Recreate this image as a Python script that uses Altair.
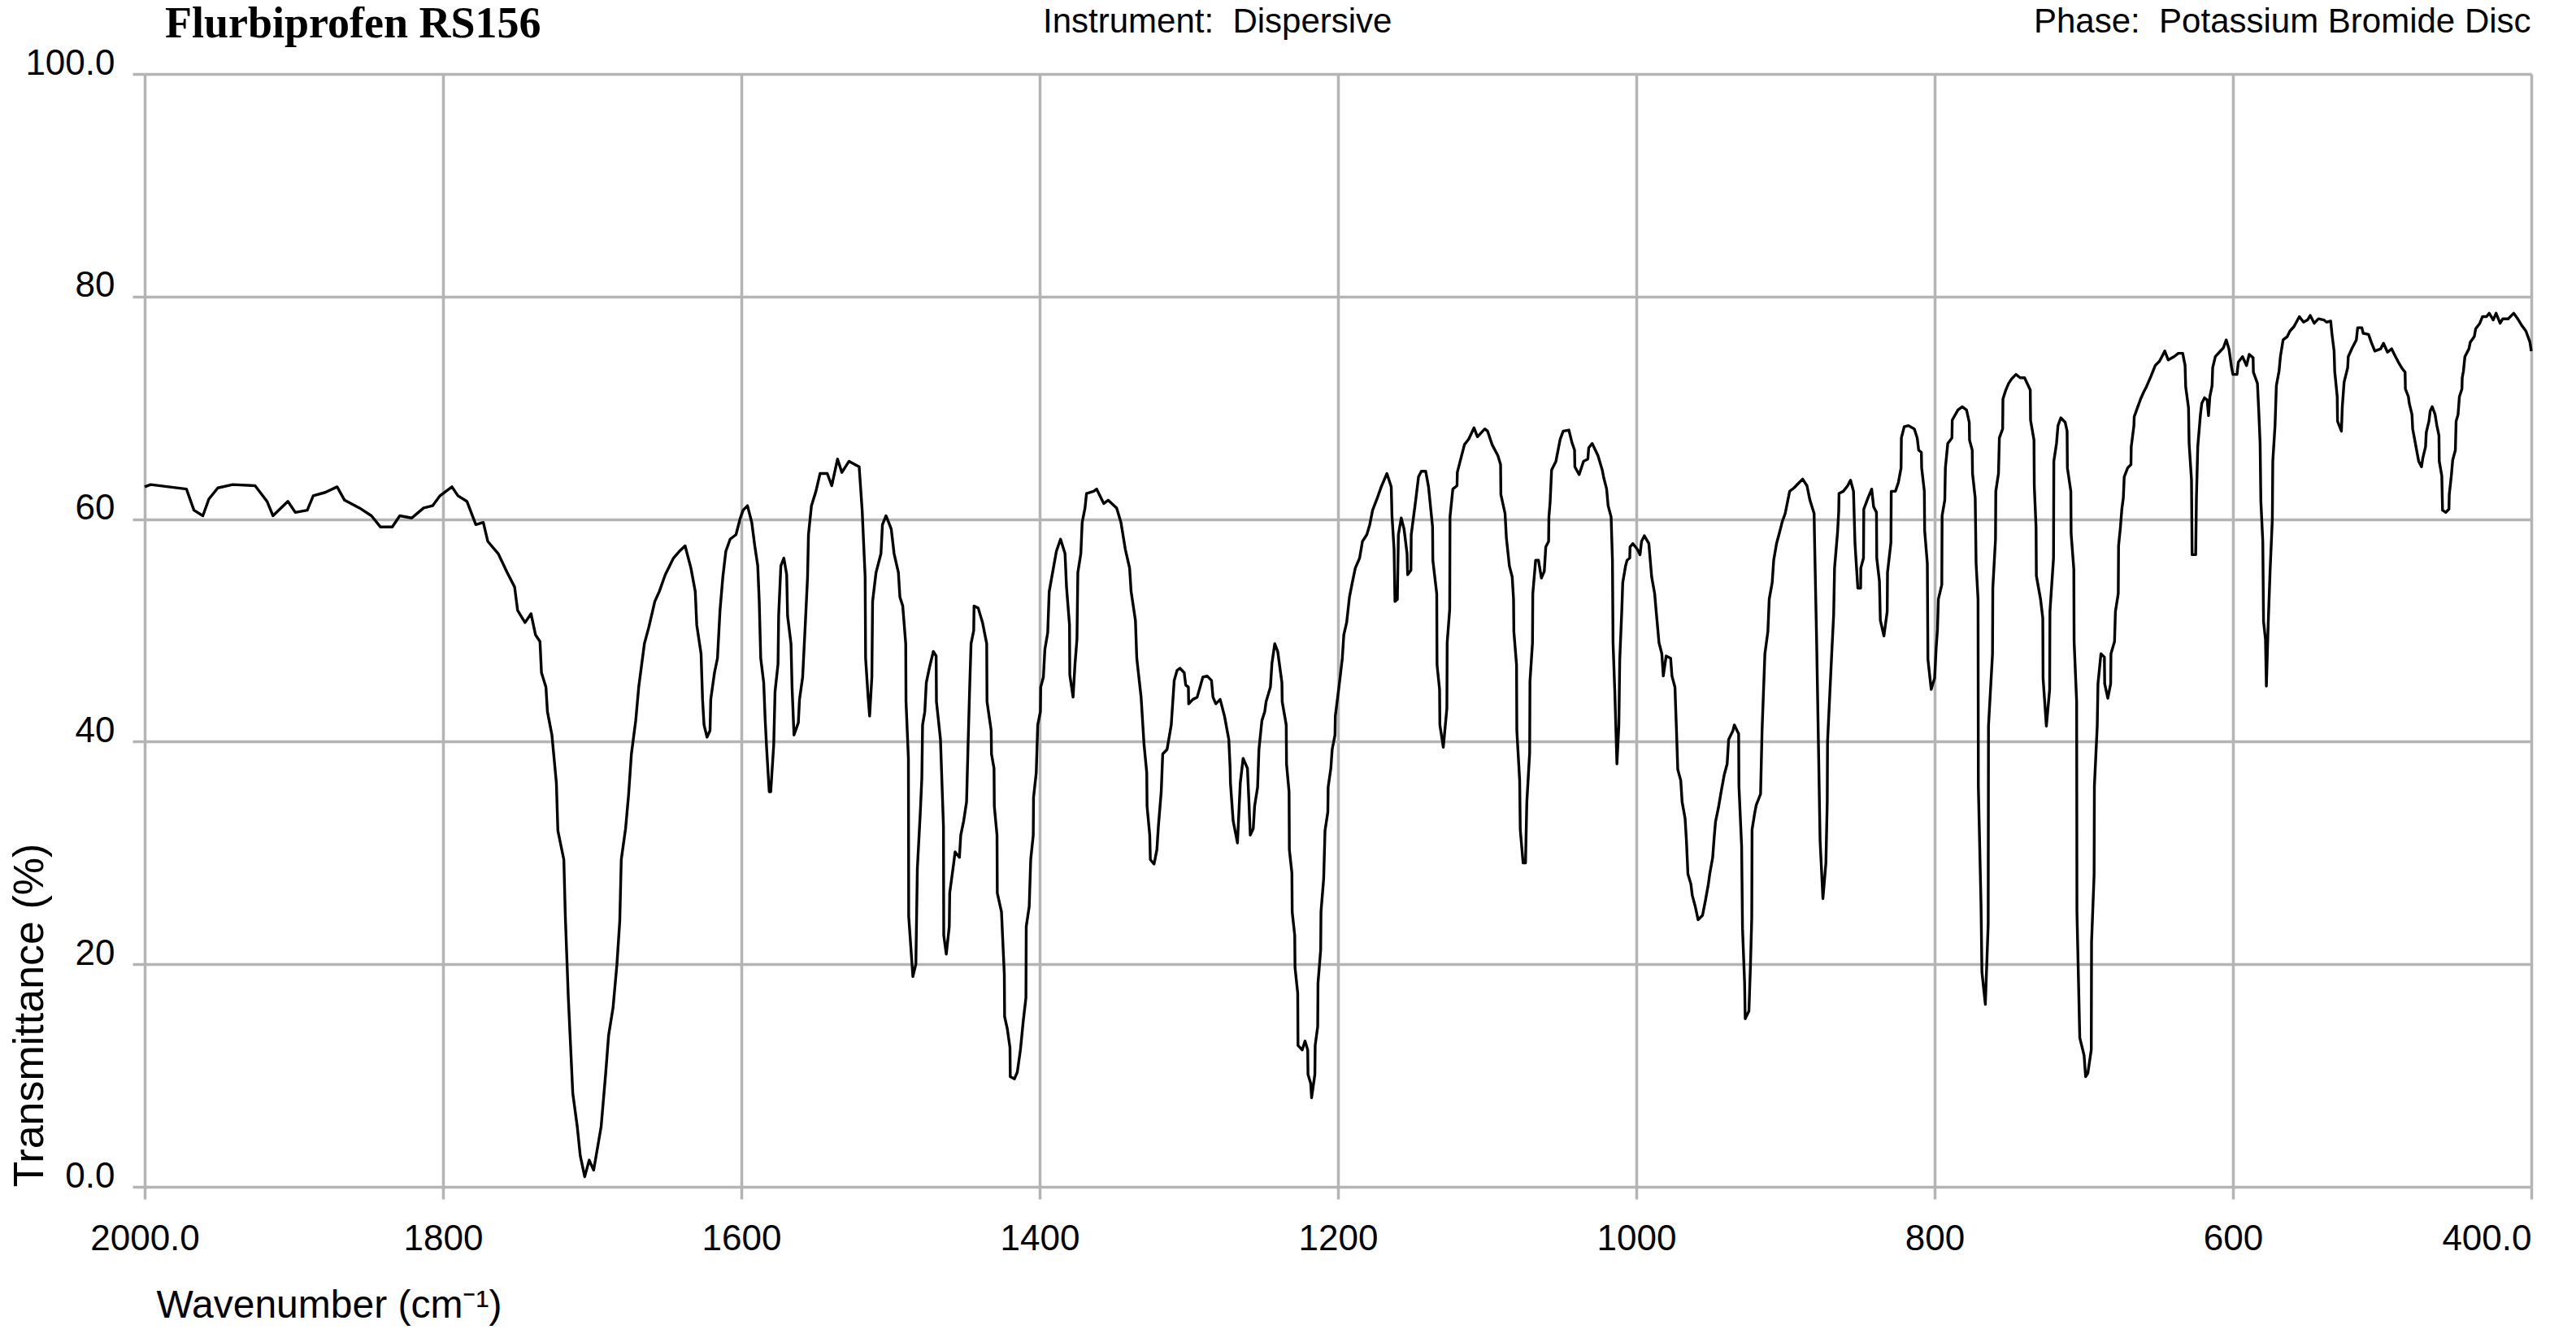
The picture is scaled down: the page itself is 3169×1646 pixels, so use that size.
import json
import altair as alt
import pandas as pd

# ---------------- data ----------------
WAVENUMBER = [
    2000, 1996, 1984, 1972, 1967, 1961, 1957, 1951, 1941, 1926, 1918, 1914, 1904, 1899, 1891, 1887,
    1879, 1871, 1866, 1856, 1848, 1842, 1834, 1829, 1821, 1813, 1807, 1802, 1794, 1790, 1784, 1778,
    1773, 1770, 1763, 1757, 1752, 1750, 1745, 1741, 1738, 1735, 1734, 1731, 1730, 1727, 1724, 1723,
    1719, 1718, 1716, 1713, 1710, 1708, 1705,
    1702, 1699, 1694, 1691, 1689, 1686, 1683.4, 1681.5, 1680.5, 1677.6, 1675.6, 1673.7, 1670.8, 1668.8,
    1665, 1662, 1658, 1655, 1651, 1645.5, 1641.6, 1637.7, 1633.8, 1630.9, 1629.9, 1627, 1626, 1625,
    1623, 1621, 1620.5, 1618, 1616, 1614.3, 1612.4, 1610.4, 1607.5, 1603.6, 1600.7, 1598.8, 1595.9,
    1593, 1591, 1589, 1588, 1587, 1585, 1584, 1583, 1581.3, 1580.3, 1578.3, 1577.4, 1575.4, 1575,
    1573.5, 1571.5, 1569.6, 1569, 1566.7, 1566, 1564.7, 1561.8, 1561, 1558.9, 1557, 1555.6, 1555,
    1553, 1550, 1547.2, 1542.4, 1539.4, 1535.5, 1532.6, 1527.8, 1521, 1519, 1517, 1516.7, 1515, 1514,
    1512.5, 1512, 1509.7, 1506.4, 1505.4, 1503, 1499.5, 1497.6, 1494.7, 1493.7, 1491.8, 1489.8,
    1489.6, 1488, 1487.8, 1485, 1483, 1482, 1480, 1479, 1478.5, 1477, 1476, 1474, 1471.3, 1469.4,
    1469.2, 1466.5, 1464.5, 1464.3, 1462.6, 1460.6, 1460.3, 1457.7, 1456.7, 1453.8, 1452.9, 1450.9,
    1449, 1448, 1447, 1446, 1444.2, 1444, 1441.2, 1438.3, 1435.5, 1435.3, 1432.5, 1432.3, 1430.6,
    1430.4, 1428.6, 1428.4, 1425.6, 1423.7, 1423.5, 1421.7, 1419.9, 1419.7, 1416.9, 1415,
    1412.9, 1411, 1409.2, 1409, 1407, 1406, 1404.3, 1404.1, 1402.3, 1401.3, 1399.5, 1399.3, 1397.5,
    1396.5, 1394.6, 1393.6, 1390.8, 1388.8, 1386, 1383, 1382, 1380, 1379.8, 1377.6, 1376.3, 1375,
    1374.4, 1372.4, 1371.5, 1369.6, 1368.6, 1363.8, 1361.8, 1357, 1354.1, 1348.4, 1345.5, 1342.6,
    1339.7, 1338.7, 1335.8, 1334.9, 1332, 1330, 1328.2, 1328, 1326.2, 1325.8, 1323.3, 1321.4, 1320.4,
    1318.5, 1317.5, 1314.6, 1311.8, 1309.8, 1307.9, 1306, 1303.1, 1302.1, 1300.3, 1300.1, 1297.3,
    1294.4, 1290.6, 1287.7, 1284.8, 1283.8, 1281.9, 1279, 1276.1, 1273.2, 1272.3, 1272.1, 1270.3,
    1267.4, 1265.5, 1263.6, 1260.7, 1259.7, 1258.8, 1256.8, 1255.9, 1253.9, 1253, 1251, 1249.1,
    1248.2, 1245.3, 1244.3, 1242.4, 1240.4, 1237.6, 1237.4, 1234.7, 1234.5, 1232.8, 1232.6, 1230.9,
    1230.7, 1229, 1228.8, 1227, 1226.8, 1224, 1222.1, 1220.3, 1220.1, 1218.3, 1217.7, 1215.5, 1215.3,
    1213.6, 1213.4, 1211.6, 1211.4, 1209.6, 1208.7, 1206.8, 1206.6, 1204.8, 1203.9, 1202, 1201.8,
    1199, 1197.1, 1196.1, 1194.2, 1192.3, 1190.4, 1188.4, 1185.5, 1183.6, 1180.7, 1178.7, 1176.8,
    1173.9, 1171, 1167.2, 1164.3, 1163.8, 1162.4, 1161.8, 1160.2, 1159.5, 1157.6, 1155.7, 1153.7,
    1153.3, 1151.1, 1150.9, 1148, 1146, 1144.1, 1141.2, 1139.3,
    1136.6, 1136.4, 1133.8, 1133.6, 1131.9, 1131.7, 1129.4, 1127, 1126.8, 1125.1, 1124.9, 1123,
    1120.2, 1120, 1118.1, 1115.2, 1112.3, 1108.8, 1106.5, 1101.6, 1099.7, 1096.7, 1092.8, 1091,
    1090.8, 1088, 1087.1, 1085.1, 1083.2, 1082.3, 1082.1, 1080.3, 1080.1, 1078.2, 1077.8, 1075.9,
    1074.3, 1073.4, 1071.5, 1071.3, 1069.6, 1069.4, 1067.5, 1065.6, 1063.6, 1061.7, 1060.7, 1058.8,
    1058.6, 1057.8, 1056.8, 1053.9, 1051, 1049, 1045.2, 1043.2, 1041.4, 1041.2, 1038.3, 1035.4,
    1032.5, 1031.9, 1029.6, 1025.7, 1022.8, 1021.8, 1019.9, 1018.9, 1016.9, 1016, 1015.6, 1014.4,
    1013, 1011.7, 1011.1, 1009.7, 1009.1, 1007.2, 1006.2, 1004.4, 1004.2, 1002.3, 999.4, 997.5, 996.5,
    994.6, 991.6, 989.7, 987.7, 986.8, 984.8, 982.9, 981.9, 980, 977, 976.1, 974.1, 973.2, 972.2,
    970.2, 969.3, 967.3, 966.4, 965.4, 963.4, 962.5, 960.5, 958.6, 955.6, 953.7, 951.7, 950.8, 948.8,
    947.8, 946.9, 944.9, 943, 941.1, 939.1, 938.1, 935.2, 934.3, 931.4, 931.2, 929.4, 928.8, 927.4,
    927, 924.5, 923.5, 922.6, 922.4, 920.6, 919.6, 916.7, 915.7, 913.8, 911.8, 910.9, 908.9, 907.9,
    906, 904, 902.1, 900.2, 897.2, 894.3, 891.4, 888.5, 885.6, 883.6, 880.8, 880.6, 879.1, 877.8,
    876.8, 874.9, 872.9, 872, 871.8, 869, 867.7, 867.1, 865.1, 864.3, 864.1, 861.2, 858.3, 856.4,
    854.4, 853.4, 851.5, 849.6, 849.5,
    847.7, 847.5, 844.7, 842.2, 840.9, 839, 838.8, 837, 836.4, 834, 831.8, 831.6, 829.3, 829.1, 826.3,
    824.3, 822.5, 822.3, 820.4, 817.5, 813.6, 811.7, 810.7, 808.9, 808.7, 806.9, 806.7, 804.9, 804.5,
    802.3, 800, 799, 798.1, 797.5, 795.2, 795, 793.2, 792.8, 791.2, 788.4, 788.2, 784.4, 781.5, 778.6,
    776.8, 776.6, 774.8, 774.6, 772.8, 772.2, 770.9, 770.7, 768.9, 768.3, 766, 764.1, 763.9, 761.2,
    761, 759.2, 759, 757.2, 756.6, 754.4, 754.2, 752.3, 750.4, 748.4, 745.5, 742.6, 739.7, 735.9,
    735.7, 733.4, 733.2, 732, 731.8, 729, 727.5, 727.3, 725.1, 722.9, 722.7, 720.3, 720.1, 718.3,
    717.3, 715.4, 712.5, 711.2, 711, 708.7, 708.5, 706.7, 706.5, 704.8, 704.6, 702.7, 699.8, 698.8,
    697.3, 695, 694.8, 693.1, 692.9, 691, 690.5, 688.5, 686.2, 686, 683.9, 682, 681.8, 679.4, 678.8,
    676.9, 676.7, 675.5, 674.5, 673.5, 672.9, 670.6, 668.4, 668.2, 666.4, 666.2, 663.8, 661.9, 659.9,
    658, 655.1, 652.1, 649.2, 645.7, 643.4, 639.5, 636.6, 633.7, 632.1, 631.7, 629.8, 629.4, 627.8,
    627.4, 625.0,
    624.5, 623.6, 621.8, 620.9, 619.1, 617.3, 616.4, 615.5, 614, 613.6, 611.8, 609.1, 606.4, 604.5,
    602.7, 600.9, 600, 597.3, 596.4, 593.6, 590.9, 589.1, 586.5, 586.3, 583.6, 582.7, 581.8, 581.3,
    580, 579.5, 578.2, 577.6, 576.4, 575.1, 573.6, 573.3, 571.8, 570.9, 569.1, 568.2, 566.4, 563.6,
    561.8, 559.1, 555.5, 552.7, 550, 548.2, 545.5, 542.7, 539.1, 537.3, 534.5, 533.6, 532.2, 531.8,
    530.1, 529.9, 527.3, 526.7, 525.5, 523.1, 522.7, 520, 517.3, 516.4, 513.6, 512.7, 509.1, 507.3,
    504.9, 501, 499.1, 496.4, 493.6, 491.8, 489.1, 486.4, 484.6, 484.4, 482.4, 481.8, 480, 479.5,
    477.3, 475.5, 473.6, 472.7, 470.9, 470.4, 468.6, 467.8, 466.4, 464.5, 463.3, 461.9, 461.7, 460,
    459.5, 457.3, 455.2, 455, 453.6, 452.7, 450.9, 450.4, 449.1, 448.2, 446.5, 446.3, 445.5, 444.5,
    441.8, 440.9, 438.2, 437.3, 434.5, 432.7, 430, 428.2, 425.5, 423.6, 420.9, 419.1, 415.5, 411.8,
    409.1, 406.4, 403.6, 400.9, 400,
]

TRANSMITTANCE = [
    62.9, 63.1, 62.9, 62.7, 60.8, 60.3, 61.8, 62.8, 63.1, 63.0, 61.6, 60.3, 61.6, 60.6, 60.8, 62.1,
    62.4, 62.9, 61.7, 61.0, 60.3, 59.3, 59.3, 60.3, 60.1, 61.0, 61.2, 62.1, 62.9, 62.1, 61.6, 59.5,
    59.7, 58.0, 56.9, 55.2, 53.9, 51.8, 50.7, 51.5, 49.6, 49.0, 46.2, 44.9, 42.7, 40.6, 36.3, 32.0,
    29.4, 24.3, 17.0, 8.4, 5.4, 2.8, 0.9,
    2.4, 1.5, 5.4, 10.1, 13.6, 16.1, 20.0, 23.9, 29.4, 32.2, 35.2, 38.9, 41.9, 44.9,
    48.8, 50.3, 52.6, 53.5, 55.0, 56.5, 57.1, 57.6, 55.6, 53.5, 50.5, 47.9, 43.8, 41.5,
    40.4, 41.0, 43.8, 46.2, 47.5, 51.8, 54.8, 57.1, 58.2, 58.6, 60.1, 60.8, 61.2,
    59.7, 57.6, 55.8, 52.6, 47.5, 45.3, 41.9, 39.3, 35.5, 35.5, 39.7, 44.5, 47.0, 51.3,
    55.8, 56.5, 55.0, 51.3, 48.8, 44.9, 40.6, 41.7, 43.8, 45.8, 50.9, 54.8, 58.6,
    61.2, 62.5, 64.1, 64.1, 63.0, 65.4, 64.2, 65.2, 64.7, 60.8, 54.8, 47.5, 44.0, 42.3,
    45.8, 52.6, 55.2, 56.9, 59.5, 60.3, 59.1, 56.9, 55.2, 53.0, 52.2, 48.8,
    43.6, 38.5, 24.3, 18.9, 20.0, 28.6, 33.7, 36.7, 41.5, 42.7, 45.3, 46.6, 48.1, 47.7,
    43.6, 40.2, 32.4, 22.6, 20.9, 23.4, 26.4, 29.0, 30.1, 29.6, 31.6, 32.9,
    34.6, 39.7, 44.5, 48.8, 50.0, 52.2, 52.0, 50.7, 48.8, 43.6, 41.0, 38.9, 37.6,
    34.2, 31.6, 26.4, 24.7, 19.1, 15.3, 14.2, 12.5, 9.9, 9.7, 10.3,
    12.3, 14.9, 17.0, 23.4, 25.2, 29.4, 31.6, 35.0, 37.2, 41.5, 42.7, 44.9, 45.8,
    48.3, 49.8, 53.5, 55.6, 57.1, 58.2, 56.9, 53.9, 50.5, 46.0, 44.0, 47.0, 49.2,
    55.2, 56.9, 59.7, 61.0, 62.3, 62.5, 62.7, 61.4, 61.7, 61.0, 59.7, 57.3,
    55.6, 53.5, 50.9, 47.5, 44.0, 39.7, 37.2, 34.2, 31.6, 29.4, 29.0, 30.3, 32.4,
    35.5, 38.9, 39.3, 41.5, 45.5, 46.4, 46.6, 46.2, 45.1, 44.9, 43.4, 43.8,
    44.0, 45.8, 45.9, 45.5, 44.0, 43.4, 43.8, 42.3, 40.2, 37.6, 36.3, 32.9,
    30.9, 36.3, 38.5, 37.6, 34.6, 31.6, 32.2, 34.2, 35.9, 39.3, 41.9, 42.7,
    43.6, 44.9, 47.0, 48.8, 48.1, 45.3, 43.6, 41.5, 38.0, 35.5, 30.3, 28.2,
    24.7, 22.6, 19.7, 17.4, 12.7, 12.3, 13.1, 12.3, 10.1, 9.3, 8.0, 10.1, 12.7,
    14.4, 18.3, 21.3, 24.7, 27.7, 32.0, 33.7, 35.9, 37.6, 39.3, 40.6, 42.3,
    45.3, 47.5, 49.6, 50.7, 53.0, 54.3, 55.6, 56.5, 58.0, 58.6, 59.5, 60.8,
    61.8, 62.9, 64.1, 62.9, 60.3, 57.3, 52.6, 52.8, 58.6, 60.1, 59.1, 56.9,
    55.0, 55.4, 58.6, 61.6, 63.8, 64.3, 64.3, 62.9,
    59.3, 56.3, 53.3, 46.9, 44.7, 41.5, 39.5, 43.0, 48.9, 51.9, 60.2, 62.7,
    63.0, 64.2, 65.2, 66.7, 67.2, 68.2, 67.4, 68.1, 67.9, 66.7, 65.7, 64.9,
    62.2, 60.5, 58.3, 55.8, 54.8, 52.8, 49.9, 46.9, 41.0, 36.5, 32.1, 29.1,
    29.1, 34.6, 39.0, 45.4, 48.9, 53.3, 56.3, 56.3, 54.7, 55.3, 57.5, 58.0,
    60.2, 61.5, 64.4, 65.2, 67.2, 67.9, 68.0, 66.9, 66.2, 64.7, 64.0, 65.2,
    65.4, 66.4, 66.8, 65.7, 64.4, 63.7, 62.7, 61.2, 60.2, 56.3, 48.9, 44.4,
    38.0, 41.5, 47.4, 51.9, 54.3, 55.8, 56.3, 56.5, 57.5, 57.8, 57.3, 56.8, 58.0,
    58.5, 57.8, 54.8, 53.3, 51.9, 48.9, 47.9, 45.9, 47.7, 47.5, 45.9, 44.9, 41.5, 37.5,
    36.5, 34.6, 33.1, 31.1, 28.1, 27.2, 26.2, 25.2, 24.0, 24.4, 25.7, 27.2, 28.1, 29.6,
    31.4, 32.8, 34.1, 35.6, 37.0, 38.0, 40.2, 41.0, 41.5, 40.7, 36.0, 30.6, 23.2, 18.3,
    15.1, 15.8, 19.8, 24.2, 32.1, 33.6, 34.3, 35.3, 41.0, 47.9, 49.9, 52.8, 54.3, 56.3,
    57.8, 58.8, 59.8, 60.5, 62.5, 62.8, 63.2, 63.6, 63.0, 61.7, 60.5, 58.8, 48.9, 39.0,
    31.1, 25.9, 29.1, 34.6, 40.0, 47.9, 51.4, 55.6, 58.8, 60.7, 62.3, 62.5, 63.0, 63.5,
    62.5, 57.8, 53.8, 53.8, 55.6,
    56.5, 60.9, 61.9, 62.7, 61.1, 60.6, 56.5, 54.4, 50.9, 49.5, 51.7, 55.2, 57.9, 62.5, 62.5,
    63.3, 64.6, 67.3, 68.3, 68.4, 68.1, 67.3, 66.2, 66.0, 64.6, 62.5, 59.0, 56.0, 47.4,
    44.7, 45.7, 48.4, 50.1, 52.8, 54.1, 60.3, 61.7, 64.6, 66.8, 67.3, 68.9, 69.8, 70.1, 69.8,
    68.7, 67.1, 66.2, 64.1, 61.9, 56.0, 52.8, 36.0, 25.3, 19.3, 16.4, 23.6, 41.4, 47.9,
    53.8, 58.2, 62.5, 64.1, 67.3, 68.1, 70.8, 71.6, 72.2, 72.6, 73.0, 72.7, 72.7, 71.6,
    68.9, 67.1, 63.0, 59.2, 54.9, 52.8, 51.1, 45.7, 41.4, 44.7, 51.7, 56.5, 65.2, 66.8,
    68.4, 69.1, 68.7, 67.9, 64.6, 62.5, 58.7, 55.5, 49.0, 43.6, 24.7, 13.4, 11.8, 9.9,
    10.2, 12.3, 22.0, 28.0, 36.0, 41.4, 45.2, 47.9, 47.6, 45.2, 43.9, 45.2, 47.9, 49.0, 51.7,
    53.3, 57.6, 59.2, 60.9, 61.9, 63.8, 64.6, 64.9, 66.5, 68.4, 69.2, 70.1, 70.8, 71.4,
    71.9, 72.8, 73.8, 74.2, 75.1, 74.3, 74.6, 74.9, 74.9, 73.8, 71.9, 70.0, 66.8, 63.5,
    56.8, 56.8,
    61.9, 66.5, 69.4, 70.4, 70.9, 70.7, 69.3, 71.0, 72.0, 73.6, 74.6, 75.0, 75.4, 76.1,
    75.3, 73.6, 73.0, 73.0, 74.1, 74.6, 73.8, 74.8, 74.5, 73.2, 72.2, 69.7, 66.8, 61.6,
    58.0, 50.8, 49.2, 45.0, 50.5, 55.4, 60.0, 65.2, 68.4, 72.0, 73.3, 74.6, 76.1, 76.4,
    76.9, 77.3, 78.2, 77.7, 77.9, 78.3, 77.6, 78.0, 77.9, 77.7, 77.8, 76.6, 75.1, 73.3,
    71.0, 68.8, 67.9, 70.1, 72.3, 73.6, 74.6, 75.4, 76.1, 77.2, 77.2, 76.7, 76.6, 75.9,
    75.1, 75.3, 75.8, 75.0, 75.3, 74.8, 74.1, 73.5, 73.2, 71.7, 71.0, 70.4, 69.4, 68.1,
    66.5, 65.2, 64.7, 65.5, 66.5, 67.8, 68.8, 69.7, 70.1, 69.4, 68.4, 67.5, 65.2, 63.9,
    60.8, 60.6, 60.9, 62.2, 63.9, 65.3, 66.2, 68.8, 69.4, 71.0, 71.7, 72.7, 73.3, 74.6,
    75.3, 75.9, 76.4, 77.1, 77.6, 78.2, 78.2, 78.5, 77.9, 78.5, 77.6, 78.0, 78.0, 78.5,
    78.0, 77.4, 76.9, 75.9, 75.1,
]

X_TICKS = [2000, 1800, 1600, 1400, 1200, 1000, 800, 600, 400]
X_TICK_LABELS = ["2000.0", "1800", "1600", "1400", "1200", "1000", "800", "600", "400.0"]
Y_TICKS = [0, 20, 40, 60, 80, 100]
Y_TICK_LABELS = ["0.0", "20", "40", "60", "80", "100.0"]

TITLE_LEFT = "Flurbiprofen RS156"
TITLE_MID = "Instrument:\u00a0 Dispersive"
TITLE_RIGHT = "Phase:\u00a0 Potassium Bromide Disc"
X_TITLE = "Wavenumber (cm\u207b\u00b9)"
Y_TITLE = "Transmittance (%)"

assert len(WAVENUMBER) == len(TRANSMITTANCE)

df = pd.DataFrame({
    "wavenumber": WAVENUMBER,
    "transmittance": TRANSMITTANCE,
    "i": list(range(len(WAVENUMBER))),
})


def label_expr(values, labels):
    return f"{json.dumps(labels)}[indexof({json.dumps(values)}, datum.value)]"


GRID = "#b4b4b4"
SANS = "Liberation Sans"
W, H = 2936, 1369

x_axis = alt.Axis(
    values=X_TICKS,
    labelExpr=label_expr(X_TICKS, X_TICK_LABELS),
    grid=True, gridColor=GRID, gridWidth=3.5, gridOpacity=1,
    ticks=True, tickColor=GRID, tickWidth=3.5, tickSize=15,
    domain=False,
    labelFont=SANS, labelFontSize=44, labelColor="black",
    labelPadding=27, labelFlush=False, labelOverlap=False, labelBaseline="top",
    labelAlign={"condition": {"test": "datum.value == 400", "value": "right"}, "value": "center"},
    title=X_TITLE, titleFont=SANS, titleFontSize=48, titleFontWeight="normal",
    titleColor="black", titleX=14, titleY=160, titleAlign="left",
    titleBaseline="alphabetic", titleAngle=0,
)

y_axis = alt.Axis(
    values=Y_TICKS,
    labelExpr=label_expr(Y_TICKS, Y_TICK_LABELS),
    grid=True, gridColor=GRID, gridWidth=3.5, gridOpacity=1,
    ticks=True, tickColor=GRID, tickWidth=3.5, tickSize=15,
    domain=False,
    labelFont=SANS, labelFontSize=44, labelColor="black",
    labelPadding=22, labelOverlap=False, labelFlush=False,
    labelBaseline="alphabetic", labelAlign="right",
    title=Y_TITLE, titleFont=SANS, titleFontSize=52, titleFontWeight="normal",
    titleColor="black", titleAngle=270, titleX=-126, titleY=H,
    titleAlign="left", titleBaseline="alphabetic",
)

line = alt.Chart(df).mark_line(color="black", strokeWidth=3.4, strokeJoin="round").encode(
    x=alt.X("wavenumber:Q", scale=alt.Scale(domain=[2000, 400], nice=False, zero=False), axis=x_axis),
    y=alt.Y("transmittance:Q", scale=alt.Scale(domain=[0, 100], nice=False, zero=False), axis=y_axis),
    order=alt.Order("i:Q"),
)

one = pd.DataFrame({"k": [0]})

t_left = alt.Chart(one).mark_text(
    text=TITLE_LEFT, font="Liberation Serif", fontSize=54, fontWeight="bold",
    align="left", baseline="alphabetic", color="black",
).encode(x=alt.value(25), y=alt.value(-45))

t_mid = alt.Chart(one).mark_text(
    text=TITLE_MID, font=SANS, fontSize=42, align="left", baseline="alphabetic", color="black",
).encode(x=alt.value(1105), y=alt.value(-51))

t_right = alt.Chart(one).mark_text(
    text=TITLE_RIGHT, font=SANS, fontSize=42, align="left", baseline="alphabetic", color="black",
).encode(x=alt.value(2324), y=alt.value(-51))

chart = alt.layer(line, t_left, t_mid, t_right).properties(
    width=W, height=H,
    autosize=alt.AutoSizeParams(type="none"),
    padding={"left": 170, "top": 83, "right": 40, "bottom": 172},
    background="white",
).configure_view(stroke=None)

chart.save("out.html", embed_options={"renderer": "svg", "actions": False})
